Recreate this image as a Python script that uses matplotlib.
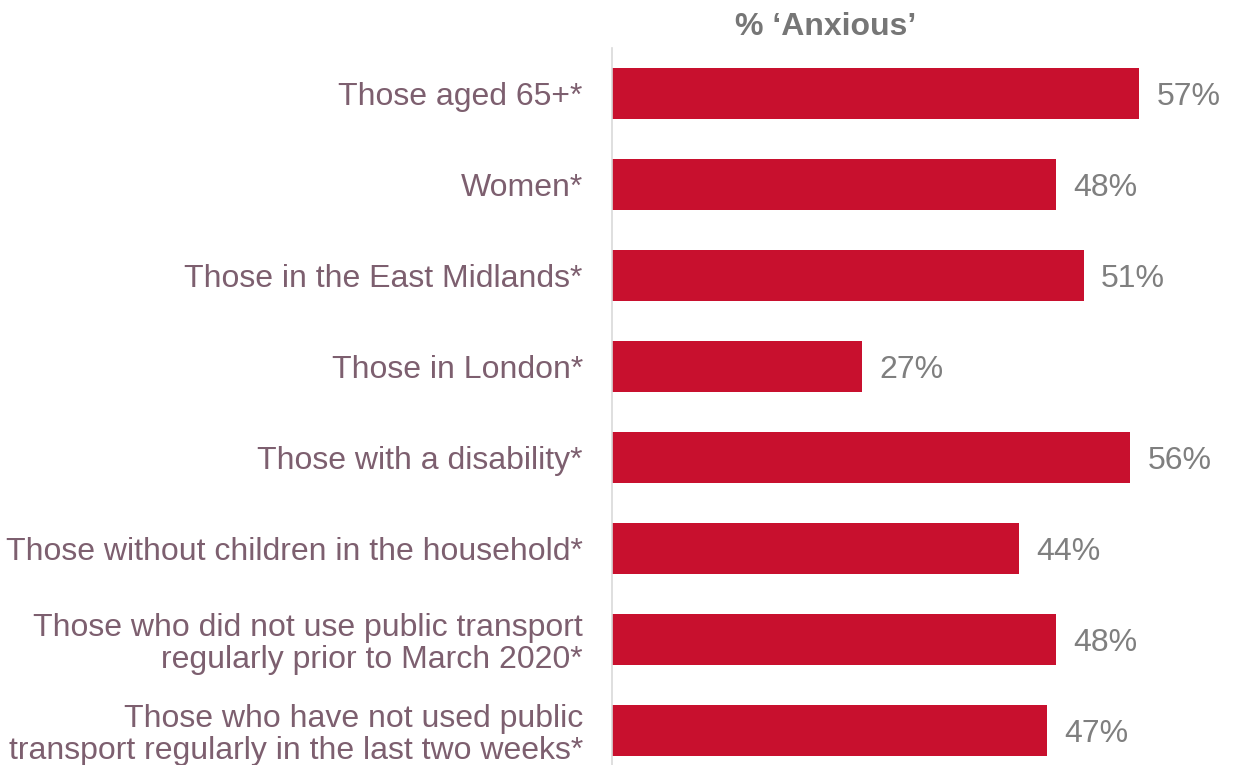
import matplotlib.pyplot as plt

categories = [
    "Those aged 65+*",
    "Women*",
    "Those in the East Midlands*",
    "Those in London*",
    "Those with a disability*",
    "Those without children in the household*",
    "Those who did not use public transport\nregularly prior to March 2020*",
    "Those who have not used public\ntransport regularly in the last two weeks*",
]
values = [57, 48, 51, 27, 56, 44, 48, 47]
value_labels = ["57%", "48%", "51%", "27%", "56%", "44%", "48%", "47%"]

plt.rcParams['font.family'] = ['Liberation Sans', 'DejaVu Sans']

W, H = 1233, 765
fig = plt.figure(figsize=(W / 100, H / 100), dpi=100)
ax = fig.add_axes([612 / W, -11 / H, 621 / W, 728 / H])

pos = list(range(len(categories)))
ax.barh(pos, values, height=0.57, color='#C8102E')
ax.set_ylim(len(categories) - 0.5, -0.5)
ax.set_xlim(0, 621 / 9.246)

for p, v, lab in zip(pos, values, value_labels):
    ax.text(v + 1.9, p, lab, va='center_baseline', ha='left', fontsize=23, color='#7F7F7F')

ax.set_yticks(pos)
ax.set_yticklabels(categories, fontsize=23, color='#7D5F6F', linespacing=1.1)
ax.tick_params(axis='y', length=0, pad=21)
ax.set_xticks([])

for s in ['top', 'right', 'bottom']:
    ax.spines[s].set_visible(False)
ax.spines['left'].set_color('#D9D9D9')
ax.spines['left'].set_linewidth(1.2)

fig.text(826 / W, 1 - 27 / H, "% \u2018Anxious\u2019", ha='center', va='center',
         fontsize=23, fontweight='bold', color='#767676')

fig.savefig('out.png', dpi=100)
